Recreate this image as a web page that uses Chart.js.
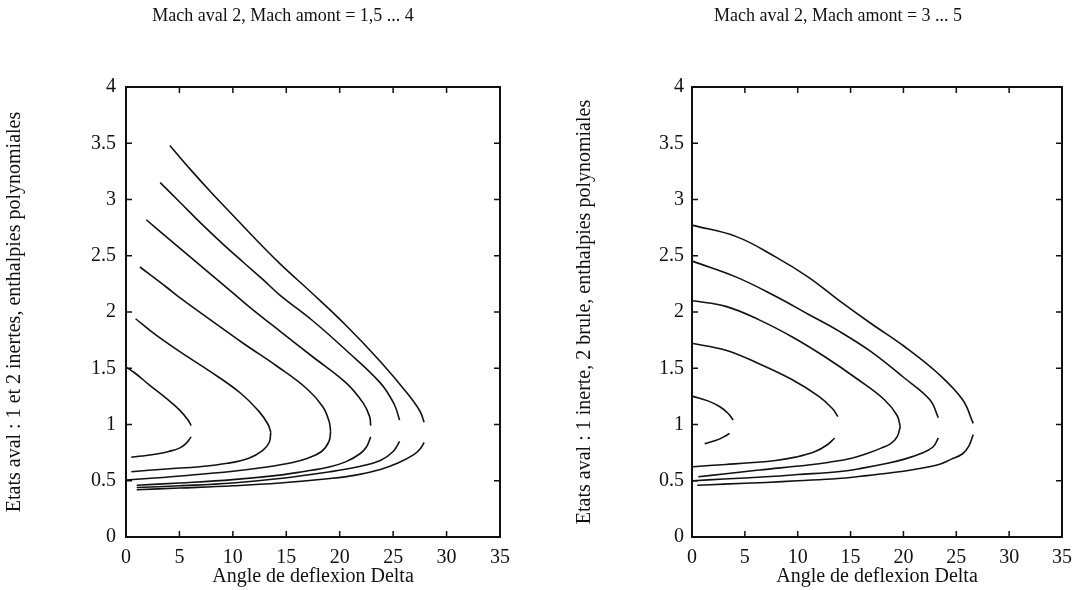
<!DOCTYPE html>
<html><head><meta charset="utf-8">
<script src="https://cdn.jsdelivr.net/npm/chart.js@4.4.1/dist/chart.umd.min.js"></script>
<style>
html,body{margin:0;padding:0;background:#fff;}
#wrap{position:relative;width:1081px;height:590px;overflow:hidden;}
#c1{position:absolute;left:0;top:0;}
#c2{position:absolute;left:566px;top:0;}
</style></head><body>
<div id="wrap"><canvas id="c1" width="566" height="590"></canvas><canvas id="c2" width="515" height="590"></canvas></div>
<script>
// ---- tick labels ----
const xTicks = [0, 5, 10, 15, 20, 25, 30, 35];
const yTicks = [0, 0.5, 1, 1.5, 2, 2.5, 3, 3.5, 4];

// ---- texts ----
const leftTitle = 'Mach aval 2, Mach amont = 1,5 ... 4';
const rightTitle = 'Mach aval 2, Mach amont = 3 ... 5';
const xTitle = 'Angle de deflexion Delta';
const leftYTitle = 'Etats aval : 1 et 2 inertes, enthalpies polynomiales';
const rightYTitle = 'Etats aval : 1 inerte, 2 brule, enthalpies polynomiales';

// ---- left chart curves [delta, value] (upper / lower branches) ----
const L1u = [[0,1.51],[0.8,1.46],[2.2,1.35],[3.8,1.23],[5.0,1.13],[5.8,1.04],[6.1,0.99]];
const L1l = [[6.1,0.89],[5.6,0.83],[5.0,0.79],[4,0.76],[3.0,0.74],[1.5,0.72],[0.5,0.71]];
const L2u = [[0.9,1.94],[2.6,1.81],[5.0,1.65],[7.9,1.47],[10.7,1.28],[12.5,1.11],[13.3,1.0],[13.55,0.93]];
const L2l = [[13.55,0.93],[13.4,0.84],[12.8,0.77],[11.5,0.70],[9.5,0.655],[6.9,0.625],[3.8,0.605],[0.5,0.58]];
const L3u = [[1.3,2.40],[3.8,2.22],[5.0,2.13],[7.9,1.93],[11.0,1.72],[14.1,1.52],[16.9,1.32],[18.4,1.16],[19.0,1.03],[19.15,0.94]];
const L3l = [[19.15,0.94],[19.0,0.85],[18.3,0.76],[17,0.70],[15.5,0.66],[13,0.62],[10,0.585],[5.4,0.545],[2,0.52],[0,0.507]];
const L4u = [[1.9,2.82],[4,2.65],[6,2.49],[8,2.33],[10,2.17],[12,2.01],[14.4,1.83],[17.5,1.60],[20.6,1.37],[22.2,1.19],[22.8,1.07],[22.9,0.99]];
const L4l = [[22.9,0.89],[22.5,0.80],[21.9,0.74],[20.6,0.67],[19.1,0.625],[16.5,0.58],[14.4,0.55],[10,0.51],[5,0.48],[1,0.46]];
const L5u = [[3.2,3.15],[5,2.98],[7,2.79],[9,2.61],[11,2.44],[12.8,2.29],[14.4,2.15],[17.5,1.92],[20.6,1.66],[23.8,1.37],[25.1,1.18],[25.6,1.04]];
const L5l = [[25.6,0.85],[25,0.76],[23.8,0.68],[21.5,0.62],[19.1,0.58],[14.4,0.52],[10,0.48],[5,0.455],[1,0.44]];
const L6u = [[4.1,3.48],[6,3.27],[8,3.06],[10,2.86],[12,2.66],[14.4,2.43],[17.5,2.16],[20.6,1.88],[23.8,1.56],[26.3,1.28],[27.5,1.12],[27.9,1.02]];
const L6l = [[27.9,0.84],[27.5,0.78],[26.9,0.73],[25.5,0.66],[23.8,0.60],[21.5,0.55],[19.1,0.52],[14.4,0.48],[10,0.455],[5,0.435],[1,0.42]];

// ---- right chart curves ----
const R1u = [[0.1,1.25],[1.5,1.21],[2.6,1.16],[3.4,1.10],[3.9,1.04]];
const R1l = [[3.55,0.92],[3.0,0.89],[2.3,0.86],[1.2,0.83]];
const R2u = [[0.1,1.72],[3.2,1.66],[6.35,1.54],[9.45,1.40],[12.0,1.25],[13.3,1.14],[13.8,1.07]];
const R2l = [[13.5,0.88],[12.8,0.82],[11.65,0.76],[9.8,0.71],[7.9,0.68],[5.5,0.66],[3.2,0.645],[0.1,0.625]];
const R3u = [[0.1,2.10],[3.2,2.05],[6.35,1.93],[9.45,1.78],[12.6,1.60],[15.7,1.40],[18.2,1.22],[19.4,1.08],[19.7,0.98]];
const R3l = [[19.7,0.98],[19.4,0.89],[18.8,0.83],[17.9,0.79],[16.5,0.74],[15.1,0.70],[13,0.665],[11.0,0.64],[6.35,0.595],[3,0.56],[0.6,0.536]];
const R4u = [[0.1,2.45],[4.2,2.31],[7.9,2.14],[11,1.98],[13.9,1.83],[16.9,1.65],[20,1.42],[22.5,1.22],[23.3,1.06]];
const R4l = [[23.3,0.88],[22.8,0.80],[21.6,0.74],[20,0.69],[18.5,0.655],[16,0.61],[13.8,0.58],[10,0.555],[7,0.535],[3,0.515],[0.1,0.50]];
const R5u = [[0.1,2.77],[4.2,2.67],[7.9,2.49],[11,2.31],[13.8,2.11],[16.9,1.90],[20,1.70],[23.2,1.46],[25.6,1.22],[26.6,1.01]];
const R5l = [[26.6,0.91],[26.2,0.81],[25.6,0.74],[24.5,0.69],[23.2,0.64],[21,0.60],[18.5,0.566],[16,0.54],[13.8,0.52],[10,0.50],[7,0.485],[3,0.47],[0.5,0.46]];

const leftCurves = [L1u, L1l, L2u, L2l, L3u, L3l, L4u, L4l, L5u, L5l, L6u, L6l];
const rightCurves = [R1u, R1l, R2u, R2l, R3u, R3l, R4u, R4l, R5u, R5l];

const INK = '#111';
const FONT = "'Liberation Serif', 'Times New Roman', serif";

const framePlugin = {
  id: 'frame',
  afterDatasetsDraw(chart, args, opts) {
    const {ctx, chartArea: a, scales: {x, y}} = chart;
    ctx.save();
    ctx.strokeStyle = INK;
    ctx.lineWidth = 2;
    ctx.strokeRect(a.left, a.top, a.right - a.left, a.bottom - a.top);
    ctx.lineWidth = 1.5;
    const L = 6;
    ctx.beginPath();
    x.ticks.forEach(t => {
      const px = x.getPixelForValue(t.value);
      ctx.moveTo(px, a.bottom); ctx.lineTo(px, a.bottom - L);
      ctx.moveTo(px, a.top); ctx.lineTo(px, a.top + L);
    });
    y.ticks.forEach(t => {
      const py = y.getPixelForValue(t.value);
      ctx.moveTo(a.left, py); ctx.lineTo(a.left + L, py);
      ctx.moveTo(a.right, py); ctx.lineTo(a.right - L, py);
    });
    ctx.stroke();
    ctx.fillStyle = INK;
    ctx.font = "18px " + FONT;
    ctx.textAlign = 'center';
    ctx.textBaseline = 'middle';
    ctx.fillText(opts.text, opts.x, opts.y);
    ctx.restore();
  }
};

function makeChart(id, curves, title, titleX, yTitle, yTitlePad, yTickPad, padRight) {
  return new Chart(document.getElementById(id), {
    type: 'scatter',
    data: {
      datasets: curves.map(seg => ({
        data: seg.map(([x, y]) => ({x, y})),
        showLine: true,
        borderColor: INK,
        borderWidth: 1.6,
        pointRadius: 0,
        pointHoverRadius: 0,
        tension: 0.4,
        fill: false
      }))
    },
    options: {
      responsive: false,
      animation: false,
      events: [],
      layout: {padding: {top: 87, left: 0, right: padRight, bottom: 0}},
      plugins: {
        legend: {display: false},
        tooltip: {enabled: false},
        title: {display: false},
        frame: {text: title, x: titleX, y: 16}
      },
      scales: {
        x: {
          type: 'linear', min: 0, max: 35,
          afterBuildTicks: s => { s.ticks = xTicks.map(v => ({value: v})); },
          afterFit: s => { s.height = 53; },
          grid: {display: false, drawTicks: false},
          border: {display: false},
          ticks: {color: INK, font: {family: FONT, size: 20}, padding: 9, maxRotation: 0, autoSkip: false,
                  callback: v => String(v)},
          title: {display: true, text: xTitle, color: INK, font: {family: FONT, size: 20}, padding: {top: 0, bottom: 1}}
        },
        y: {
          type: 'linear', min: 0, max: 4,
          afterBuildTicks: s => { s.ticks = yTicks.map(v => ({value: v})); },
          afterFit: s => { s.width = 126; },
          grid: {display: false, drawTicks: false},
          border: {display: false},
          ticks: {color: INK, font: {family: FONT, size: 20}, padding: yTickPad, autoSkip: false,
                  callback: v => String(v)},
          title: {display: true, text: yTitle, color: INK, font: {family: FONT, size: 20}, padding: {top: yTitlePad, bottom: 0}}
        }
      }
    },
    plugins: [framePlugin]
  });
}

makeChart('c1', leftCurves, leftTitle, 283, leftYTitle, 3, 10, 66);
makeChart('c2', rightCurves, rightTitle, 272, rightYTitle, 7, 8, 14);
</script>
</body></html>
